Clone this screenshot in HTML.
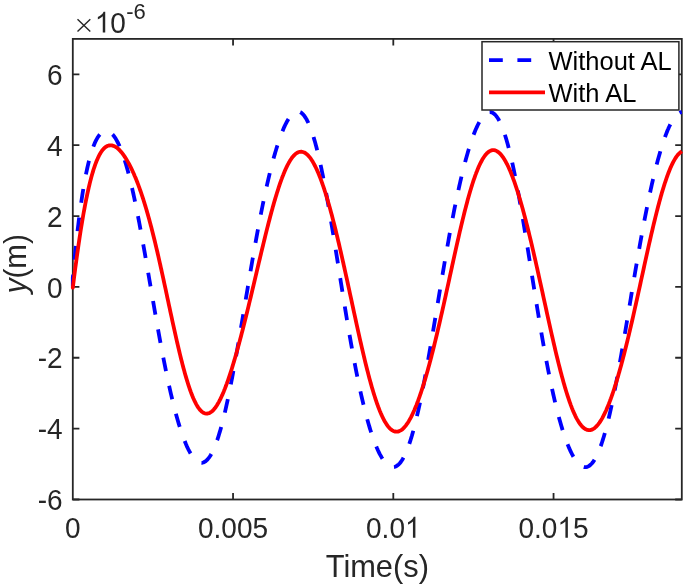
<!DOCTYPE html>
<html><head><meta charset="utf-8"><style>
html,body{margin:0;padding:0;background:#fff;}
svg{display:block;filter:blur(0.35px);}
text{font-family:"Liberation Sans",sans-serif;}
</style></head><body>
<svg width="685" height="587" viewBox="0 0 685 587">
<rect width="685" height="587" fill="#fff"/>
<g fill="none" stroke="#262626" stroke-width="1.8">
<rect x="72.8" y="38.9" width="609.00" height="460.60"/>
<path d="M72.8,499.48h6.6M681.8,499.48h-6.6M72.8,428.62h6.6M681.8,428.62h-6.6M72.8,357.76h6.6M681.8,357.76h-6.6M72.8,286.90h6.6M681.8,286.90h-6.6M72.8,216.04h6.6M681.8,216.04h-6.6M72.8,145.18h6.6M681.8,145.18h-6.6M72.8,74.32h6.6M681.8,74.32h-6.6M233.05,499.5v-6.6M233.05,38.9v6.6M393.30,499.5v-6.6M393.30,38.9v6.6M553.55,499.5v-6.6M553.55,38.9v6.6"/>
</g>
<g fill="none" stroke-linejoin="round">
<path d="M72.8,286.8 72.8,278.0 73.3,272.5 73.8,267.1 74.3,261.9 74.8,256.8 75.3,251.8 75.8,246.9 76.3,242.2 76.8,237.6 77.3,233.2 77.8,228.8 78.3,224.6 78.8,220.5 79.3,216.6 79.8,212.7 80.3,209.0 80.8,205.4 81.3,201.9 81.8,198.5 82.3,195.2 82.8,192.0 83.3,189.0 83.8,186.0 84.3,183.1 84.8,180.4 85.3,177.7 85.8,175.1 86.3,172.7 86.8,170.3 87.3,168.0 87.8,165.8 88.3,163.7 88.8,161.6 89.3,159.7 89.8,157.8 90.3,156.0 90.8,154.3 91.3,152.6 91.8,151.0 92.3,149.5 92.8,148.1 93.3,146.7 93.8,145.4 94.3,144.2 94.8,143.0 95.3,141.9 96.3,139.9 97.3,138.1 98.3,136.5 99.3,135.1 100.3,134.0 101.3,133.0 102.3,132.2 103.8,131.4 105.3,131.0 106.8,131.0 108.3,131.3 109.8,132.1 110.8,132.8 111.8,133.7 112.8,134.7 113.8,135.9 114.8,137.3 115.8,138.8 116.8,140.6 117.8,142.5 118.8,144.5 119.3,145.6 119.8,146.8 120.3,147.9 120.8,149.2 121.3,150.4 121.8,151.8 122.3,153.1 122.8,154.5 123.3,156.0 123.8,157.4 124.3,159.0 124.8,160.5 125.3,162.2 125.8,163.8 126.3,165.5 126.8,167.2 127.3,169.0 127.8,170.8 128.3,172.7 128.8,174.6 129.3,176.6 129.8,178.5 130.3,180.6 130.8,182.6 131.3,184.7 131.8,186.9 132.3,189.1 132.8,191.3 133.3,193.5 133.8,195.8 134.3,198.1 134.8,200.5 135.3,202.9 135.8,205.3 136.3,207.7 136.8,210.2 137.3,212.7 137.8,215.3 138.3,217.8 138.8,220.4 139.3,223.0 139.8,225.7 140.3,228.3 140.8,231.0 141.3,233.7 141.8,236.5 142.3,239.2 142.8,242.0 143.3,244.8 143.8,247.6 144.3,250.4 144.8,253.2 145.3,256.1 145.8,258.9 146.3,261.8 146.8,264.7 147.3,267.6 147.8,270.5 148.3,273.4 148.8,276.3 149.3,279.2 149.8,282.1 150.3,285.0 150.8,287.9 151.3,290.8 151.8,293.7 152.3,296.6 152.8,299.5 153.3,302.4 153.8,305.3 154.3,308.2 154.8,311.1 155.3,313.9 155.8,316.8 156.3,319.6 156.8,322.4 157.3,325.2 157.8,328.0 158.3,330.8 158.8,333.6 159.3,336.3 159.8,339.1 160.3,341.8 160.8,344.5 161.3,347.1 161.8,349.8 162.3,352.4 162.8,355.0 163.3,357.6 163.8,360.2 164.3,362.7 164.8,365.2 165.3,367.7 165.8,370.2 166.3,372.6 166.8,375.0 167.3,377.4 167.8,379.8 168.3,382.1 168.8,384.4 169.3,386.7 169.8,388.9 170.3,391.1 170.8,393.3 171.3,395.4 171.8,397.5 172.3,399.6 172.8,401.7 173.3,403.7 173.8,405.7 174.3,407.7 174.8,409.6 175.3,411.5 175.8,413.4 176.3,415.2 176.8,417.0 177.3,418.8 177.8,420.5 178.3,422.2 178.8,423.9 179.3,425.5 179.8,427.1 180.3,428.7 180.8,430.3 181.3,431.8 181.8,433.2 182.3,434.7 182.8,436.1 183.3,437.4 183.8,438.8 184.3,440.1 184.8,441.3 185.3,442.6 185.8,443.8 186.3,444.9 186.8,446.1 187.3,447.2 188.3,449.3 189.3,451.2 190.3,453.0 191.3,454.7 192.3,456.2 193.3,457.5 194.3,458.7 195.3,459.8 196.3,460.7 197.3,461.4 198.8,462.3 200.3,462.7 201.8,462.8 203.3,462.5 204.8,461.8 205.8,461.1 206.8,460.2 207.8,459.1 208.8,457.9 209.8,456.5 210.8,454.9 211.8,453.1 212.8,451.1 213.8,448.9 214.3,447.7 214.8,446.5 215.3,445.3 215.8,444.0 216.3,442.6 216.8,441.2 217.3,439.8 217.8,438.3 218.3,436.8 218.8,435.2 219.3,433.5 219.8,431.9 220.3,430.2 220.8,428.4 221.3,426.6 221.8,424.7 222.3,422.8 222.8,420.9 223.3,418.9 223.8,416.9 224.3,414.8 224.8,412.7 225.3,410.6 225.8,408.4 226.3,406.2 226.8,403.9 227.3,401.6 227.8,399.3 228.3,396.9 228.8,394.5 229.3,392.1 229.8,389.6 230.3,387.1 230.8,384.6 231.3,382.0 231.8,379.4 232.3,376.8 232.8,374.1 233.3,371.5 233.8,368.8 234.3,366.0 234.8,363.3 235.3,360.5 235.8,357.7 236.3,354.9 236.8,352.1 237.3,349.2 237.8,346.4 238.3,343.5 238.8,340.6 239.3,337.7 239.8,334.8 240.3,331.8 240.8,328.9 241.3,325.9 241.8,323.0 242.3,320.0 242.8,317.0 243.3,314.0 243.8,311.1 244.3,308.1 244.8,305.1 245.3,302.1 245.8,299.1 246.3,296.1 246.8,293.2 247.3,290.2 247.8,287.2 248.3,284.2 248.8,281.3 249.3,278.3 249.8,275.4 250.3,272.5 250.8,269.5 251.3,266.6 251.8,263.7 252.3,260.8 252.8,258.0 253.3,255.1 253.8,252.3 254.3,249.4 254.8,246.6 255.3,243.9 255.8,241.1 256.3,238.3 256.8,235.6 257.3,232.9 257.8,230.2 258.3,227.5 258.8,224.9 259.3,222.2 259.8,219.6 260.3,217.1 260.8,214.5 261.3,212.0 261.8,209.5 262.3,207.0 262.8,204.5 263.3,202.1 263.8,199.7 264.3,197.3 264.8,195.0 265.3,192.7 265.8,190.4 266.3,188.1 266.8,185.9 267.3,183.7 267.8,181.5 268.3,179.3 268.8,177.2 269.3,175.1 269.8,173.0 270.3,171.0 270.8,169.0 271.3,167.0 271.8,165.1 272.3,163.2 272.8,161.3 273.3,159.4 273.8,157.6 274.3,155.8 274.8,154.1 275.3,152.3 275.8,150.7 276.3,149.0 276.8,147.4 277.3,145.8 277.8,144.2 278.3,142.7 278.8,141.2 279.3,139.7 279.8,138.3 280.3,136.9 280.8,135.5 281.3,134.2 281.8,132.9 282.3,131.6 282.8,130.4 283.3,129.2 283.8,128.0 284.3,126.9 285.3,124.8 286.3,122.8 287.3,120.9 288.3,119.3 289.3,117.7 290.3,116.4 291.3,115.2 292.3,114.1 293.3,113.2 294.3,112.5 295.8,111.8 297.3,111.5 298.8,111.7 300.3,112.2 301.8,113.2 302.8,114.1 303.8,115.2 304.8,116.6 305.8,118.1 306.8,119.8 307.8,121.8 308.8,124.0 309.3,125.1 309.8,126.3 310.3,127.6 310.8,128.9 311.3,130.3 311.8,131.7 312.3,133.2 312.8,134.7 313.3,136.3 313.8,137.9 314.3,139.6 314.8,141.3 315.3,143.1 315.8,145.0 316.3,146.8 316.8,148.8 317.3,150.7 317.8,152.8 318.3,154.8 318.8,157.0 319.3,159.1 319.8,161.3 320.3,163.6 320.8,165.9 321.3,168.2 321.8,170.6 322.3,173.1 322.8,175.5 323.3,178.0 323.8,180.6 324.3,183.1 324.8,185.8 325.3,188.4 325.8,191.1 326.3,193.8 326.8,196.6 327.3,199.4 327.8,202.2 328.3,205.0 328.8,207.9 329.3,210.8 329.8,213.7 330.3,216.6 330.8,219.6 331.3,222.6 331.8,225.6 332.3,228.6 332.8,231.7 333.3,234.7 333.8,237.8 334.3,240.9 334.8,244.0 335.3,247.1 335.8,250.2 336.3,253.4 336.8,256.5 337.3,259.6 337.8,262.8 338.3,265.9 338.8,269.1 339.3,272.2 339.8,275.4 340.3,278.5 340.8,281.7 341.3,284.8 341.8,287.9 342.3,291.1 342.8,294.2 343.3,297.3 343.8,300.4 344.3,303.5 344.8,306.5 345.3,309.6 345.8,312.6 346.3,315.7 346.8,318.7 347.3,321.7 347.8,324.7 348.3,327.6 348.8,330.5 349.3,333.5 349.8,336.4 350.3,339.2 350.8,342.1 351.3,344.9 351.8,347.7 352.3,350.5 352.8,353.2 353.3,355.9 353.8,358.6 354.3,361.3 354.8,363.9 355.3,366.5 355.8,369.1 356.3,371.6 356.8,374.1 357.3,376.6 357.8,379.1 358.3,381.5 358.8,383.9 359.3,386.2 359.8,388.6 360.3,390.9 360.8,393.1 361.3,395.4 361.8,397.5 362.3,399.7 362.8,401.8 363.3,403.9 363.8,406.0 364.3,408.0 364.8,410.0 365.3,412.0 365.8,413.9 366.3,415.8 366.8,417.6 367.3,419.5 367.8,421.2 368.3,423.0 368.8,424.7 369.3,426.4 369.8,428.1 370.3,429.7 370.8,431.3 371.3,432.8 371.8,434.3 372.3,435.8 372.8,437.3 373.3,438.7 373.8,440.1 374.3,441.4 374.8,442.8 375.3,444.0 375.8,445.3 376.3,446.5 376.8,447.7 377.3,448.8 377.8,450.0 378.8,452.1 379.8,454.1 380.8,455.9 381.8,457.7 382.8,459.3 383.8,460.7 384.8,462.0 385.8,463.2 386.8,464.2 387.8,465.1 388.8,465.8 390.3,466.6 391.8,467.0 393.3,467.1 394.8,466.9 396.3,466.2 397.8,465.2 398.8,464.3 399.8,463.2 400.8,462.0 401.8,460.5 402.8,458.9 403.8,457.1 404.8,455.1 405.8,452.9 406.3,451.8 406.8,450.6 407.3,449.3 407.8,448.0 408.3,446.7 408.8,445.3 409.3,443.8 409.8,442.3 410.3,440.8 410.8,439.2 411.3,437.6 411.8,436.0 412.3,434.2 412.8,432.5 413.3,430.7 413.8,428.8 414.3,426.9 414.8,425.0 415.3,423.0 415.8,421.0 416.3,419.0 416.8,416.9 417.3,414.7 417.8,412.6 418.3,410.3 418.8,408.1 419.3,405.8 419.8,403.5 420.3,401.1 420.8,398.7 421.3,396.3 421.8,393.8 422.3,391.3 422.8,388.7 423.3,386.2 423.8,383.6 424.3,381.0 424.8,378.3 425.3,375.6 425.8,372.9 426.3,370.2 426.8,367.4 427.3,364.6 427.8,361.8 428.3,359.0 428.8,356.2 429.3,353.3 429.8,350.4 430.3,347.5 430.8,344.6 431.3,341.7 431.8,338.8 432.3,335.8 432.8,332.9 433.3,329.9 433.8,326.9 434.3,323.9 434.8,320.9 435.3,317.9 435.8,314.9 436.3,311.9 436.8,308.9 437.3,305.9 437.8,302.9 438.3,299.9 438.8,296.9 439.3,293.9 439.8,290.9 440.3,287.9 440.8,284.9 441.3,281.9 441.8,278.9 442.3,276.0 442.8,273.0 443.3,270.1 443.8,267.2 444.3,264.2 444.8,261.3 445.3,258.4 445.8,255.6 446.3,252.7 446.8,249.9 447.3,247.1 447.8,244.2 448.3,241.5 448.8,238.7 449.3,235.9 449.8,233.2 450.3,230.5 450.8,227.8 451.3,225.2 451.8,222.5 452.3,219.9 452.8,217.3 453.3,214.8 453.8,212.2 454.3,209.7 454.8,207.2 455.3,204.8 455.8,202.3 456.3,199.9 456.8,197.5 457.3,195.2 457.8,192.8 458.3,190.5 458.8,188.3 459.3,186.0 459.8,183.8 460.3,181.6 460.8,179.5 461.3,177.3 461.8,175.2 462.3,173.2 462.8,171.1 463.3,169.1 463.8,167.1 464.3,165.2 464.8,163.3 465.3,161.4 465.8,159.5 466.3,157.7 466.8,155.9 467.3,154.2 467.8,152.4 468.3,150.8 468.8,149.1 469.3,147.5 469.8,145.9 470.3,144.3 470.8,142.8 471.3,141.3 471.8,139.8 472.3,138.4 472.8,137.0 473.3,135.6 473.8,134.3 474.3,133.0 474.8,131.7 475.3,130.5 475.8,129.3 476.3,128.2 476.8,127.1 477.8,125.0 478.8,123.0 479.8,121.2 480.8,119.5 481.8,118.0 482.8,116.7 483.8,115.5 484.8,114.5 485.8,113.7 487.3,112.7 488.8,112.2 490.3,112.1 491.8,112.4 493.3,113.2 494.3,114.0 495.3,114.9 496.3,116.1 497.3,117.5 498.3,119.0 499.3,120.8 500.3,122.8 501.3,125.1 501.8,126.2 502.3,127.5 502.8,128.8 503.3,130.1 503.8,131.5 504.3,133.0 504.8,134.5 505.3,136.0 505.8,137.6 506.3,139.3 506.8,141.0 507.3,142.7 507.8,144.5 508.3,146.4 508.8,148.3 509.3,150.3 509.8,152.3 510.3,154.3 510.8,156.4 511.3,158.5 511.8,160.7 512.3,163.0 512.8,165.2 513.3,167.6 513.8,169.9 514.3,172.3 514.8,174.8 515.3,177.3 515.8,179.8 516.3,182.4 516.8,184.9 517.3,187.6 517.8,190.3 518.3,193.0 518.8,195.7 519.3,198.5 519.8,201.3 520.3,204.1 520.8,206.9 521.3,209.8 521.8,212.7 522.3,215.7 522.8,218.6 523.3,221.6 523.8,224.6 524.3,227.6 524.8,230.6 525.3,233.7 525.8,236.7 526.3,239.8 526.8,242.9 527.3,246.0 527.8,249.1 528.3,252.2 528.8,255.4 529.3,258.5 529.8,261.6 530.3,264.8 530.8,267.9 531.3,271.1 531.8,274.2 532.3,277.4 532.8,280.5 533.3,283.6 533.8,286.8 534.3,289.9 534.8,293.0 535.3,296.1 535.8,299.2 536.3,302.3 536.8,305.4 537.3,308.5 537.8,311.5 538.3,314.5 538.8,317.6 539.3,320.6 539.8,323.5 540.3,326.5 540.8,329.4 541.3,332.4 541.8,335.3 542.3,338.1 542.8,341.0 543.3,343.8 543.8,346.6 544.3,349.4 544.8,352.2 545.3,354.9 545.8,357.6 546.3,360.3 546.8,362.9 547.3,365.5 547.8,368.1 548.3,370.6 548.8,373.2 549.3,375.7 549.8,378.1 550.3,380.6 550.8,383.0 551.3,385.3 551.8,387.7 552.3,390.0 552.8,392.2 553.3,394.5 553.8,396.7 554.3,398.9 554.8,401.0 555.3,403.1 555.8,405.2 556.3,407.2 556.8,409.2 557.3,411.2 557.8,413.1 558.3,415.0 558.8,416.9 559.3,418.7 559.8,420.5 560.3,422.3 560.8,424.1 561.3,425.8 561.8,427.4 562.3,429.1 562.8,430.7 563.3,432.2 563.8,433.8 564.3,435.3 564.8,436.7 565.3,438.2 565.8,439.5 566.3,440.9 566.8,442.2 567.3,443.5 567.8,444.8 568.3,446.0 568.8,447.2 569.3,448.4 569.8,449.5 570.3,450.6 571.3,452.7 572.3,454.7 573.3,456.5 574.3,458.2 575.3,459.7 576.3,461.1 577.3,462.4 578.3,463.5 579.3,464.5 580.3,465.3 581.3,466.0 582.8,466.7 584.3,467.1 585.8,467.1 587.3,466.8 588.8,466.1 589.8,465.4 590.8,464.5 591.8,463.5 592.8,462.3 593.8,460.9 594.8,459.3 595.8,457.5 596.8,455.5 597.8,453.4 598.3,452.3 598.8,451.1 599.3,449.9 599.8,448.6 600.3,447.2 600.8,445.9 601.3,444.5 601.8,443.0 602.3,441.5 602.8,439.9 603.3,438.3 603.8,436.7 604.3,435.0 604.8,433.2 605.3,431.5 605.8,429.6 606.3,427.8 606.8,425.9 607.3,423.9 607.8,421.9 608.3,419.9 608.8,417.8 609.3,415.7 609.8,413.5 610.3,411.3 610.8,409.1 611.3,406.8 611.8,404.5 612.3,402.1 612.8,399.7 613.3,397.3 613.8,394.8 614.3,392.4 614.8,389.8 615.3,387.3 615.8,384.7 616.3,382.1 616.8,379.4 617.3,376.8 617.8,374.1 618.3,371.4 618.8,368.6 619.3,365.8 619.8,363.0 620.3,360.2 620.8,357.4 621.3,354.5 621.8,351.7 622.3,348.8 622.8,345.9 623.3,343.0 623.8,340.0 624.3,337.1 624.8,334.1 625.3,331.2 625.8,328.2 626.3,325.2 626.8,322.2 627.3,319.2 627.8,316.2 628.3,313.2 628.8,310.2 629.3,307.2 629.8,304.2 630.3,301.2 630.8,298.2 631.3,295.1 631.8,292.1 632.3,289.2 632.8,286.2 633.3,283.2 633.8,280.2 634.3,277.2 634.8,274.3 635.3,271.3 635.8,268.4 636.3,265.5 636.8,262.6 637.3,259.7 637.8,256.8 638.3,253.9 638.8,251.1 639.3,248.3 639.8,245.4 640.3,242.6 640.8,239.9 641.3,237.1 641.8,234.4 642.3,231.7 642.8,229.0 643.3,226.3 643.8,223.7 644.3,221.0 644.8,218.4 645.3,215.9 645.8,213.3 646.3,210.8 646.8,208.3 647.3,205.8 647.8,203.4 648.3,200.9 648.8,198.5 649.3,196.2 649.8,193.8 650.3,191.5 650.8,189.2 651.3,187.0 651.8,184.7 652.3,182.5 652.8,180.4 653.3,178.2 653.8,176.1 654.3,174.0 654.8,172.0 655.3,170.0 655.8,168.0 656.3,166.0 656.8,164.1 657.3,162.2 657.8,160.3 658.3,158.5 658.8,156.7 659.3,154.9 659.8,153.2 660.3,151.5 660.8,149.8 661.3,148.2 661.8,146.5 662.3,145.0 662.8,143.4 663.3,141.9 663.8,140.4 664.3,139.0 664.8,137.6 665.3,136.2 665.8,134.9 666.3,133.6 666.8,132.3 667.3,131.0 667.8,129.8 668.3,128.7 668.8,127.5 669.3,126.5 670.3,124.4 671.3,122.5 672.3,120.7 673.3,119.1 674.3,117.6 675.3,116.3 676.3,115.2 677.3,114.2 678.3,113.4 679.8,112.6 681.3,112.2 681.8,112.1" stroke="#0000ff" stroke-width="3.8" stroke-dasharray="13.80 14.94" stroke-dashoffset="1.60"/>
<path d="M72.8,286.8 72.8,287.7 73.3,283.7 73.8,279.7 74.3,275.8 74.8,271.9 75.3,268.1 75.8,264.4 76.3,260.7 76.8,257.0 77.3,253.4 77.8,249.9 78.3,246.4 78.8,243.0 79.3,239.6 79.8,236.3 80.3,233.0 80.8,229.8 81.3,226.7 81.8,223.7 82.3,220.7 82.8,217.7 83.3,214.8 83.8,212.0 84.3,209.3 84.8,206.6 85.3,204.0 85.8,201.4 86.3,198.9 86.8,196.5 87.3,194.1 87.8,191.8 88.3,189.5 88.8,187.3 89.3,185.2 89.8,183.1 90.3,181.1 90.8,179.2 91.3,177.3 91.8,175.5 92.3,173.8 92.8,172.1 93.3,170.4 93.8,168.8 94.3,167.3 94.8,165.9 95.3,164.4 95.8,163.1 96.3,161.8 96.8,160.6 97.3,159.4 97.8,158.2 98.8,156.1 99.8,154.2 100.8,152.5 101.8,151.0 102.8,149.7 103.8,148.6 104.8,147.6 105.8,146.9 107.3,146.0 108.8,145.5 110.3,145.3 111.8,145.4 113.3,145.8 114.8,146.4 116.3,147.3 117.3,148.1 118.3,148.9 119.3,149.9 120.3,151.0 121.3,152.1 122.3,153.3 123.3,154.7 124.3,156.1 125.3,157.6 126.3,159.2 127.3,160.9 128.3,162.6 129.3,164.5 130.3,166.4 131.3,168.4 132.3,170.5 133.3,172.7 133.8,173.8 134.3,175.0 134.8,176.2 135.3,177.3 135.8,178.6 136.3,179.8 136.8,181.0 137.3,182.3 137.8,183.6 138.3,184.9 138.8,186.3 139.3,187.7 139.8,189.1 140.3,190.5 140.8,191.9 141.3,193.4 141.8,194.8 142.3,196.3 142.8,197.9 143.3,199.4 143.8,201.0 144.3,202.6 144.8,204.2 145.3,205.9 145.8,207.5 146.3,209.2 146.8,210.9 147.3,212.7 147.8,214.4 148.3,216.2 148.8,218.0 149.3,219.8 149.8,221.7 150.3,223.5 150.8,225.4 151.3,227.3 151.8,229.3 152.3,231.2 152.8,233.2 153.3,235.2 153.8,237.2 154.3,239.2 154.8,241.3 155.3,243.4 155.8,245.5 156.3,247.6 156.8,249.7 157.3,251.8 157.8,254.0 158.3,256.2 158.8,258.4 159.3,260.6 159.8,262.8 160.3,265.0 160.8,267.3 161.3,269.5 161.8,271.8 162.3,274.1 162.8,276.4 163.3,278.7 163.8,281.0 164.3,283.3 164.8,285.6 165.3,287.9 165.8,290.2 166.3,292.6 166.8,294.9 167.3,297.3 167.8,299.6 168.3,301.9 168.8,304.3 169.3,306.6 169.8,308.9 170.3,311.3 170.8,313.6 171.3,315.9 171.8,318.2 172.3,320.6 172.8,322.8 173.3,325.1 173.8,327.4 174.3,329.7 174.8,331.9 175.3,334.2 175.8,336.4 176.3,338.6 176.8,340.8 177.3,343.0 177.8,345.2 178.3,347.3 178.8,349.4 179.3,351.5 179.8,353.6 180.3,355.6 180.8,357.7 181.3,359.7 181.8,361.6 182.3,363.6 182.8,365.5 183.3,367.4 183.8,369.3 184.3,371.1 184.8,372.9 185.3,374.7 185.8,376.4 186.3,378.1 186.8,379.8 187.3,381.4 187.8,383.0 188.3,384.6 188.8,386.1 189.3,387.6 189.8,389.1 190.3,390.5 190.8,391.9 191.3,393.2 191.8,394.5 192.3,395.8 192.8,397.0 193.3,398.2 193.8,399.3 194.3,400.4 195.3,402.4 196.3,404.3 197.3,406.1 198.3,407.6 199.3,409.0 200.3,410.2 201.3,411.2 202.3,412.0 203.3,412.7 204.8,413.4 206.3,413.6 207.8,413.5 209.3,413.1 210.8,412.2 211.8,411.5 212.8,410.6 213.8,409.5 214.8,408.3 215.8,407.0 216.8,405.5 217.8,403.8 218.8,402.1 219.8,400.2 220.8,398.1 221.8,396.0 222.3,394.9 222.8,393.7 223.3,392.6 223.8,391.4 224.3,390.1 224.8,388.9 225.3,387.6 225.8,386.3 226.3,384.9 226.8,383.6 227.3,382.2 227.8,380.8 228.3,379.4 228.8,377.9 229.3,376.4 229.8,374.9 230.3,373.4 230.8,371.8 231.3,370.3 231.8,368.7 232.3,367.1 232.8,365.4 233.3,363.8 233.8,362.1 234.3,360.4 234.8,358.7 235.3,357.0 235.8,355.2 236.3,353.5 236.8,351.7 237.3,349.9 237.8,348.1 238.3,346.3 238.8,344.4 239.3,342.6 239.8,340.7 240.3,338.8 240.8,336.9 241.3,335.0 241.8,333.1 242.3,331.2 242.8,329.2 243.3,327.2 243.8,325.3 244.3,323.3 244.8,321.3 245.3,319.3 245.8,317.3 246.3,315.3 246.8,313.2 247.3,311.2 247.8,309.1 248.3,307.1 248.8,305.0 249.3,302.9 249.8,300.9 250.3,298.8 250.8,296.7 251.3,294.6 251.8,292.5 252.3,290.4 252.8,288.3 253.3,286.2 253.8,284.1 254.3,282.0 254.8,279.8 255.3,277.7 255.8,275.6 256.3,273.5 256.8,271.4 257.3,269.3 257.8,267.1 258.3,265.0 258.8,262.9 259.3,260.8 259.8,258.7 260.3,256.6 260.8,254.5 261.3,252.4 261.8,250.3 262.3,248.3 262.8,246.2 263.3,244.1 263.8,242.1 264.3,240.0 264.8,238.0 265.3,235.9 265.8,233.9 266.3,231.9 266.8,229.9 267.3,227.9 267.8,226.0 268.3,224.0 268.8,222.1 269.3,220.2 269.8,218.2 270.3,216.3 270.8,214.5 271.3,212.6 271.8,210.8 272.3,208.9 272.8,207.1 273.3,205.4 273.8,203.6 274.3,201.8 274.8,200.1 275.3,198.4 275.8,196.7 276.3,195.1 276.8,193.5 277.3,191.8 277.8,190.3 278.3,188.7 278.8,187.2 279.3,185.7 279.8,184.2 280.3,182.7 280.8,181.3 281.3,179.9 281.8,178.6 282.3,177.2 282.8,175.9 283.3,174.7 283.8,173.4 284.3,172.2 284.8,171.0 285.3,169.9 285.8,168.8 286.8,166.6 287.8,164.6 288.8,162.8 289.8,161.1 290.8,159.5 291.8,158.0 292.8,156.7 293.8,155.6 294.8,154.6 295.8,153.7 296.8,153.0 298.3,152.3 299.8,151.8 301.3,151.7 302.8,152.0 304.3,152.5 305.8,153.4 306.8,154.2 307.8,155.1 308.8,156.2 309.8,157.4 310.8,158.7 311.8,160.2 312.8,161.8 313.8,163.6 314.8,165.5 315.8,167.5 316.8,169.6 317.3,170.7 317.8,171.9 318.3,173.0 318.8,174.3 319.3,175.5 319.8,176.8 320.3,178.0 320.8,179.4 321.3,180.7 321.8,182.1 322.3,183.5 322.8,185.0 323.3,186.4 323.8,187.9 324.3,189.4 324.8,191.0 325.3,192.5 325.8,194.1 326.3,195.7 326.8,197.4 327.3,199.1 327.8,200.8 328.3,202.5 328.8,204.2 329.3,206.0 329.8,207.8 330.3,209.6 330.8,211.4 331.3,213.3 331.8,215.1 332.3,217.0 332.8,218.9 333.3,220.9 333.8,222.8 334.3,224.8 334.8,226.8 335.3,228.8 335.8,230.8 336.3,232.9 336.8,234.9 337.3,237.0 337.8,239.1 338.3,241.2 338.8,243.3 339.3,245.5 339.8,247.6 340.3,249.8 340.8,252.0 341.3,254.1 341.8,256.4 342.3,258.6 342.8,260.8 343.3,263.0 343.8,265.3 344.3,267.5 344.8,269.8 345.3,272.1 345.8,274.3 346.3,276.6 346.8,278.9 347.3,281.2 347.8,283.5 348.3,285.8 348.8,288.1 349.3,290.4 349.8,292.8 350.3,295.1 350.8,297.4 351.3,299.7 351.8,302.0 352.3,304.4 352.8,306.7 353.3,309.0 353.8,311.3 354.3,313.6 354.8,315.9 355.3,318.2 355.8,320.5 356.3,322.8 356.8,325.1 357.3,327.4 357.8,329.6 358.3,331.9 358.8,334.1 359.3,336.4 359.8,338.6 360.3,340.8 360.8,343.0 361.3,345.2 361.8,347.4 362.3,349.5 362.8,351.7 363.3,353.8 363.8,355.9 364.3,358.0 364.8,360.1 365.3,362.2 365.8,364.2 366.3,366.2 366.8,368.2 367.3,370.2 367.8,372.1 368.3,374.1 368.8,376.0 369.3,377.9 369.8,379.7 370.3,381.5 370.8,383.4 371.3,385.1 371.8,386.9 372.3,388.6 372.8,390.3 373.3,392.0 373.8,393.6 374.3,395.2 374.8,396.8 375.3,398.4 375.8,399.9 376.3,401.4 376.8,402.8 377.3,404.3 377.8,405.6 378.3,407.0 378.8,408.3 379.3,409.6 379.8,410.9 380.3,412.1 380.8,413.3 381.3,414.4 381.8,415.5 382.8,417.7 383.8,419.6 384.8,421.5 385.8,423.1 386.8,424.7 387.8,426.1 388.8,427.3 389.8,428.4 390.8,429.3 391.8,430.1 393.3,430.9 394.8,431.5 396.3,431.7 397.8,431.6 399.3,431.1 400.8,430.4 401.8,429.7 402.8,428.9 403.8,427.9 404.8,426.8 405.8,425.6 406.8,424.2 407.8,422.8 408.8,421.2 409.8,419.4 410.8,417.6 411.8,415.6 412.8,413.5 413.8,411.3 414.3,410.2 414.8,409.0 415.3,407.8 415.8,406.6 416.3,405.4 416.8,404.1 417.3,402.8 417.8,401.5 418.3,400.1 418.8,398.7 419.3,397.3 419.8,395.9 420.3,394.4 420.8,393.0 421.3,391.5 421.8,389.9 422.3,388.4 422.8,386.8 423.3,385.2 423.8,383.6 424.3,382.0 424.8,380.3 425.3,378.6 425.8,376.9 426.3,375.2 426.8,373.5 427.3,371.7 427.8,369.9 428.3,368.1 428.8,366.3 429.3,364.4 429.8,362.6 430.3,360.7 430.8,358.8 431.3,356.9 431.8,354.9 432.3,353.0 432.8,351.0 433.3,349.0 433.8,347.0 434.3,345.0 434.8,342.9 435.3,340.9 435.8,338.8 436.3,336.7 436.8,334.7 437.3,332.5 437.8,330.4 438.3,328.3 438.8,326.1 439.3,324.0 439.8,321.8 440.3,319.6 440.8,317.4 441.3,315.2 441.8,313.0 442.3,310.8 442.8,308.5 443.3,306.3 443.8,304.1 444.3,301.8 444.8,299.5 445.3,297.3 445.8,295.0 446.3,292.7 446.8,290.4 447.3,288.2 447.8,285.9 448.3,283.6 448.8,281.3 449.3,279.0 449.8,276.7 450.3,274.4 450.8,272.1 451.3,269.8 451.8,267.5 452.3,265.2 452.8,263.0 453.3,260.7 453.8,258.4 454.3,256.1 454.8,253.9 455.3,251.6 455.8,249.4 456.3,247.1 456.8,244.9 457.3,242.7 457.8,240.5 458.3,238.3 458.8,236.1 459.3,233.9 459.8,231.7 460.3,229.6 460.8,227.5 461.3,225.4 461.8,223.3 462.3,221.2 462.8,219.1 463.3,217.1 463.8,215.1 464.3,213.0 464.8,211.1 465.3,209.1 465.8,207.2 466.3,205.3 466.8,203.4 467.3,201.5 467.8,199.6 468.3,197.8 468.8,196.0 469.3,194.3 469.8,192.5 470.3,190.8 470.8,189.2 471.3,187.5 471.8,185.9 472.3,184.3 472.8,182.7 473.3,181.2 473.8,179.7 474.3,178.3 474.8,176.8 475.3,175.4 475.8,174.1 476.3,172.7 476.8,171.5 477.3,170.2 477.8,169.0 478.3,167.8 478.8,166.6 479.3,165.5 480.3,163.4 481.3,161.5 482.3,159.6 483.3,158.0 484.3,156.5 485.3,155.1 486.3,154.0 487.3,152.9 488.3,152.1 489.3,151.4 490.8,150.6 492.3,150.2 493.8,150.1 495.3,150.4 496.8,151.1 498.3,152.1 499.3,152.9 500.3,153.9 501.3,155.0 502.3,156.3 503.3,157.7 504.3,159.3 505.3,160.9 506.3,162.8 507.3,164.7 508.3,166.8 509.3,169.0 509.8,170.1 510.3,171.3 510.8,172.5 511.3,173.7 511.8,175.0 512.3,176.3 512.8,177.6 513.3,179.0 513.8,180.3 514.3,181.7 514.8,183.2 515.3,184.6 515.8,186.1 516.3,187.6 516.8,189.1 517.3,190.7 517.8,192.3 518.3,193.9 518.8,195.5 519.3,197.2 519.8,198.8 520.3,200.5 520.8,202.2 521.3,204.0 521.8,205.8 522.3,207.5 522.8,209.3 523.3,211.2 523.8,213.0 524.3,214.9 524.8,216.8 525.3,218.7 525.8,220.6 526.3,222.6 526.8,224.5 527.3,226.5 527.8,228.5 528.3,230.5 528.8,232.5 529.3,234.6 529.8,236.6 530.3,238.7 530.8,240.8 531.3,242.9 531.8,245.0 532.3,247.1 532.8,249.3 533.3,251.4 533.8,253.6 534.3,255.8 534.8,258.0 535.3,260.2 535.8,262.4 536.3,264.6 536.8,266.8 537.3,269.0 537.8,271.3 538.3,273.5 538.8,275.8 539.3,278.1 539.8,280.3 540.3,282.6 540.8,284.9 541.3,287.1 541.8,289.4 542.3,291.7 542.8,294.0 543.3,296.3 543.8,298.6 544.3,300.9 544.8,303.2 545.3,305.4 545.8,307.7 546.3,310.0 546.8,312.3 547.3,314.6 547.8,316.8 548.3,319.1 548.8,321.4 549.3,323.6 549.8,325.9 550.3,328.1 550.8,330.4 551.3,332.6 551.8,334.8 552.3,337.0 552.8,339.2 553.3,341.4 553.8,343.5 554.3,345.7 554.8,347.8 555.3,350.0 555.8,352.1 556.3,354.2 556.8,356.2 557.3,358.3 557.8,360.3 558.3,362.4 558.8,364.4 559.3,366.3 559.8,368.3 560.3,370.3 560.8,372.2 561.3,374.1 561.8,375.9 562.3,377.8 562.8,379.6 563.3,381.4 563.8,383.2 564.3,384.9 564.8,386.7 565.3,388.4 565.8,390.0 566.3,391.7 566.8,393.3 567.3,394.9 567.8,396.4 568.3,397.9 568.8,399.4 569.3,400.9 569.8,402.3 570.3,403.7 570.8,405.1 571.3,406.4 571.8,407.7 572.3,408.9 572.8,410.2 573.3,411.4 573.8,412.5 574.3,413.6 575.3,415.8 576.3,417.8 577.3,419.6 578.3,421.3 579.3,422.9 580.3,424.3 581.3,425.5 582.3,426.6 583.3,427.6 584.3,428.4 585.8,429.3 587.3,429.9 588.8,430.2 590.3,430.1 591.8,429.7 593.3,428.9 594.3,428.3 595.3,427.4 596.3,426.5 597.3,425.4 598.3,424.2 599.3,422.9 600.3,421.4 601.3,419.8 602.3,418.1 603.3,416.2 604.3,414.2 605.3,412.2 606.3,410.0 606.8,408.8 607.3,407.6 607.8,406.4 608.3,405.2 608.8,404.0 609.3,402.7 609.8,401.4 610.3,400.0 610.8,398.7 611.3,397.3 611.8,395.9 612.3,394.5 612.8,393.0 613.3,391.5 613.8,390.0 614.3,388.5 614.8,386.9 615.3,385.3 615.8,383.7 616.3,382.1 616.8,380.5 617.3,378.8 617.8,377.1 618.3,375.4 618.8,373.6 619.3,371.9 619.8,370.1 620.3,368.3 620.8,366.5 621.3,364.7 621.8,362.8 622.3,360.9 622.8,359.0 623.3,357.1 623.8,355.2 624.3,353.2 624.8,351.3 625.3,349.3 625.8,347.3 626.3,345.3 626.8,343.3 627.3,341.2 627.8,339.1 628.3,337.1 628.8,335.0 629.3,332.9 629.8,330.8 630.3,328.6 630.8,326.5 631.3,324.3 631.8,322.2 632.3,320.0 632.8,317.8 633.3,315.6 633.8,313.4 634.3,311.2 634.8,308.9 635.3,306.7 635.8,304.5 636.3,302.2 636.8,300.0 637.3,297.7 637.8,295.4 638.3,293.1 638.8,290.9 639.3,288.6 639.8,286.3 640.3,284.0 640.8,281.7 641.3,279.4 641.8,277.2 642.3,274.9 642.8,272.6 643.3,270.3 643.8,268.0 644.3,265.7 644.8,263.4 645.3,261.2 645.8,258.9 646.3,256.6 646.8,254.4 647.3,252.1 647.8,249.9 648.3,247.6 648.8,245.4 649.3,243.2 649.8,241.0 650.3,238.8 650.8,236.6 651.3,234.4 651.8,232.3 652.3,230.2 652.8,228.0 653.3,225.9 653.8,223.8 654.3,221.7 654.8,219.7 655.3,217.6 655.8,215.6 656.3,213.6 656.8,211.6 657.3,209.7 657.8,207.7 658.3,205.8 658.8,203.9 659.3,202.1 659.8,200.2 660.3,198.4 660.8,196.6 661.3,194.9 661.8,193.1 662.3,191.4 662.8,189.7 663.3,188.1 663.8,186.5 664.3,184.9 664.8,183.3 665.3,181.8 665.8,180.3 666.3,178.8 666.8,177.4 667.3,176.0 667.8,174.6 668.3,173.3 668.8,172.0 669.3,170.7 669.8,169.5 670.3,168.3 670.8,167.1 671.3,166.0 672.3,163.9 673.3,161.9 674.3,160.1 675.3,158.4 676.3,156.9 677.3,155.5 678.3,154.3 679.3,153.3 680.3,152.4 681.3,151.7 681.8,151.3" stroke="#ff0000" stroke-width="3.8"/>
</g>

<g transform="translate(37.70,510.08) scale(1,1.04)" fill="#262626"><text x="0" y="0" font-size="28">-6</text></g><g transform="translate(37.70,439.22) scale(1,1.04)" fill="#262626"><text x="0" y="0" font-size="28">-4</text></g><g transform="translate(37.70,368.36) scale(1,1.04)" fill="#262626"><text x="0" y="0" font-size="28">-2</text></g><g transform="translate(47.03,297.50) scale(1,1.04)" fill="#262626"><text x="0" y="0" font-size="28">0</text></g><g transform="translate(47.03,226.64) scale(1,1.04)" fill="#262626"><text x="0" y="0" font-size="28">2</text></g><g transform="translate(47.03,155.78) scale(1,1.04)" fill="#262626"><text x="0" y="0" font-size="28">4</text></g><g transform="translate(47.03,84.92) scale(1,1.04)" fill="#262626"><text x="0" y="0" font-size="28">6</text></g>
<g transform="translate(65.01,537.70) scale(1,1.04)" fill="#262626"><text x="0" y="0" font-size="28">0</text></g><g transform="translate(198.02,537.70) scale(1,1.04)" fill="#262626"><text x="0" y="0" font-size="28">0.005</text></g><g transform="translate(366.05,537.70) scale(1,1.04)" fill="#262626"><text x="0" y="0" font-size="28">0.0 </text><path transform="translate(38.92,0) scale(0.01367,-0.01367)" d="M763,0H583V1147C518,1085 431,1023 323,961C288,941 253,927 223,914V1088C314,1131 398,1183 475,1245C552,1307 608,1374 646,1466H763Z"/></g><g transform="translate(518.52,537.70) scale(1,1.04)" fill="#262626"><text x="0" y="0" font-size="28">0.0 5</text><path transform="translate(38.92,0) scale(0.01367,-0.01367)" d="M763,0H583V1147C518,1085 431,1023 323,961C288,941 253,927 223,914V1088C314,1131 398,1183 475,1245C552,1307 608,1374 646,1466H763Z"/></g>
<path d="M77.5,19.3L90.3,31.6M90.3,19.3L77.5,31.6" stroke="#262626" stroke-width="1.4" fill="none"/>
<g transform="translate(94.80,32.50) scale(1,1.04)" fill="#262626"><text x="0" y="0" font-size="28"> 0</text><path transform="translate(0.00,0) scale(0.01367,-0.01367)" d="M763,0H583V1147C518,1085 431,1023 323,961C288,941 253,927 223,914V1088C314,1131 398,1183 475,1245C552,1307 608,1374 646,1466H763Z"/></g>
<g transform="translate(126.20,18.60) scale(1,1.04)" fill="#262626"><text x="0" y="0" font-size="22">-6</text></g>
<g transform="translate(377.30,576.60) scale(1,1.04)" fill="#262626"><text x="0" y="0" font-size="30.8" text-anchor="middle">Time(s)</text></g>
<g transform="translate(25.5,263.8) rotate(-90) scale(1,1.04)" fill="#262626"><text x="0" y="0" font-size="29.6" text-anchor="middle"><tspan font-style="italic">y</tspan>(m)</text></g>
<rect x="482" y="41.7" width="196.9" height="68.3" fill="#fff" stroke="#262626" stroke-width="1.5"/>
<path d="M489,60.1H545" stroke="#0000ff" stroke-width="3.8" stroke-dasharray="13.8 14.6" fill="none"/>
<path d="M489,92.4H545" stroke="#ff0000" stroke-width="3.8" fill="none"/>
<g transform="translate(548.50,69.60) scale(1,1.04)" fill="#000"><text x="0" y="0" font-size="25.5" text-anchor="start">Without AL</text></g>
<g transform="translate(548.50,101.60) scale(1,1.04)" fill="#000"><text x="0" y="0" font-size="25.5" text-anchor="start">With AL</text></g>
</svg>
</body></html>
